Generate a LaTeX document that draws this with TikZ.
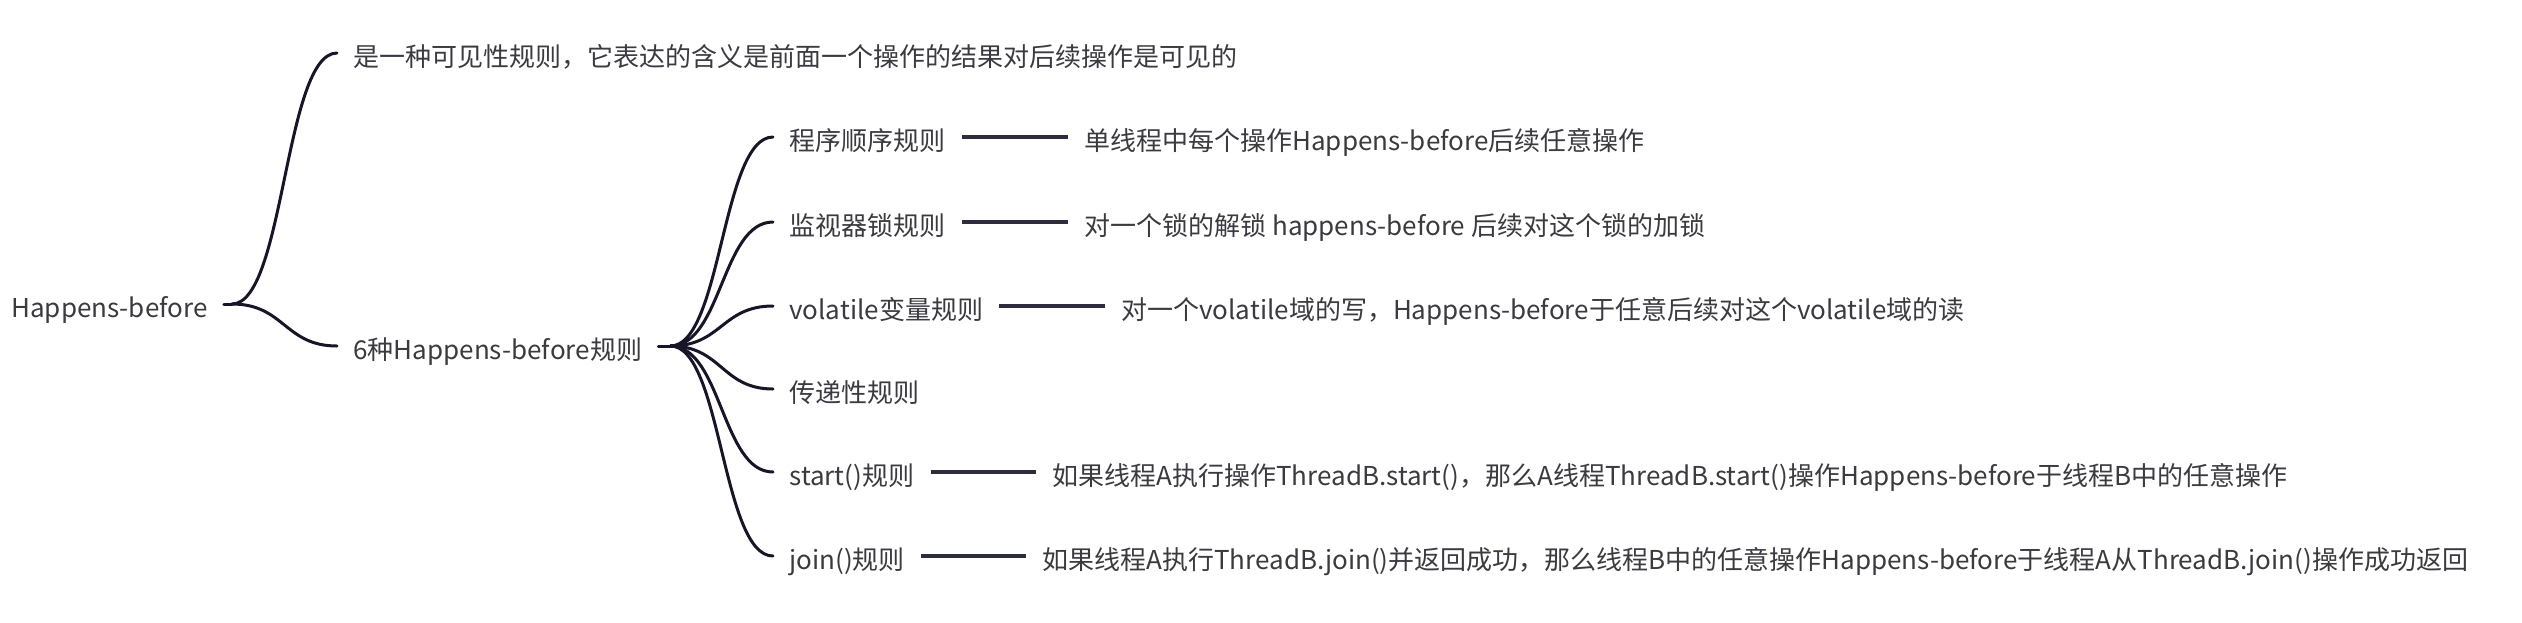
\documentclass[tikz,border=0pt]{standalone}
\usepackage{fontspec}
\setmainfont{Noto Sans CJK SC}
\usetikzlibrary{calc}
\definecolor{curvecol}{RGB}{22,22,40}
\definecolor{barcol}{RGB}{45,45,62}
\definecolor{txtcol}{RGB}{58,58,64}
\tikzset{
  txt/.style={anchor=west,inner xsep=8pt,inner ysep=0pt,text=txtcol,font=\fontsize{13pt}{15pt}\selectfont,text height=13pt,text depth=0pt},
  curve/.style={draw=curvecol,line width=1.5pt,line cap=round},
  bar/.style={draw=barcol,line width=2.4pt},
}
\newcommand\mmbranch[2]{\draw[curve] let \p1=(#1), \p2=(#2) in (\p1) .. controls ({0.5*\x1+0.5*\x2},\y1) and ({0.5*\x1+0.5*\x2},\y2) .. (\p2);}
\begin{document}
\begin{tikzpicture}[x=0.5pt,y=-0.5pt]
\useasboundingbox (0,0) rectangle (2522,622);
% nodes
\node[txt] (r) at (-5,304) {Happens-before};
\node[txt] (a) at (337,53) {是一种可见性规则，它表达的含义是前面一个操作的结果对后续操作是可见的};
\node[txt] (b) at (337,346) {6种Happens-before规则};
\node[txt] (c1) at (773,137) {程序顺序规则};
\node[txt] (c2) at (773,222) {监视器锁规则};
\node[txt] (c3) at (773,306) {volatile变量规则};
\node[txt] (c4) at (773,389) {传递性规则};
\node[txt] (c5) at (773,472) {start()规则};
\node[txt] (c6) at (773,556) {join()规则};
\node[txt] (d1) at (1068,137) {单线程中每个操作Happens-before后续任意操作};
\node[txt] (d2) at (1068,222) {对一个锁的解锁 happens-before 后续对这个锁的加锁};
\node[txt] (d3) at (1105,306) {对一个volatile域的写，Happens-before于任意后续对这个volatile域的读};
\node[txt] (d5) at (1036,472) {如果线程A执行操作ThreadB.start()，那么A线程ThreadB.start()操作Happens-before于线程B中的任意操作};
\node[txt] (d6) at (1026,556) {如果线程A执行ThreadB.join()并返回成功，那么线程B中的任意操作Happens-before于线程A从ThreadB.join()操作成功返回};
% junctions
\draw[curve] (r.east) -- ++(8,0) coordinate (j1);
\draw[curve] (b.east) -- ++(12,0) coordinate (j2);
% curves
\mmbranch{j1}{a.west}
\mmbranch{j1}{b.west}
\mmbranch{j2}{c1.west}
\mmbranch{j2}{c2.west}
\mmbranch{j2}{c3.west}
\mmbranch{j2}{c4.west}
\mmbranch{j2}{c5.west}
\mmbranch{j2}{c6.west}
% bars
\draw[bar] (c1.east) -- (d1.west);
\draw[bar] (c2.east) -- (d2.west);
\draw[bar] (c3.east) -- (d3.west);
\draw[bar] (c5.east) -- (d5.west);
\draw[bar] (c6.east) -- (d6.west);
\end{tikzpicture}
\end{document}
